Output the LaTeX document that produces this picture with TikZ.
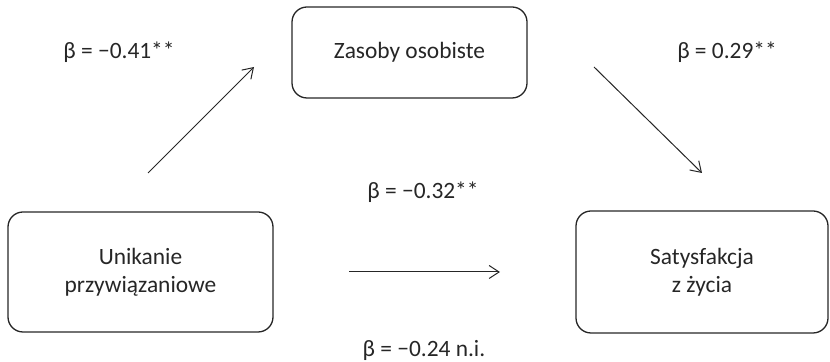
\documentclass[tikz,border=0pt]{standalone}
\usepackage{fontspec}
\setmainfont{Carlito}
\usetikzlibrary{arrows.meta}
\definecolor{ink}{HTML}{262626}
\begin{document}
\begin{tikzpicture}[x=0.5pt,y=-0.5pt,
  box/.style={draw=ink, line width=0.65pt, rounded corners=7.5pt, align=center, inner sep=0pt, text=ink},
  lbl/.style={text=ink, inner sep=0pt},
  conn/.style={draw=ink, line width=0.5pt, -{Straight Barb[length=5pt,width=6.5pt]}},
  every node/.style={font=\fontsize{11.7}{14}\selectfont}]
\useasboundingbox (0,0) rectangle (830,362);
\node[box, minimum width=117.5pt, minimum height=45.5pt] (zas) at (409.5,52.5) {Zasoby osobiste};
\node[box, minimum width=132.5pt, minimum height=60pt] (uni) at (140.5,272) {Unikanie\\przywiązaniowe};
\node[box, minimum width=126pt, minimum height=61pt] (sat) at (702,272) {Satysfakcja\\z życia};
\node[lbl] (b1) at (119,52) {β = −0.41**};
\node[lbl] (b2) at (727,52) {β = 0.29**};
\node[lbl] (b3) at (423,192) {β = −0.32**};
\node[lbl] (b4) at (424,350) {β = −0.24 n.i.};
\coordinate (a1s) at (148,173);
\coordinate (a1e) at (254,67);
\coordinate (a2s) at (594,67);
\coordinate (a2e) at (702,173);
\coordinate (a3s) at (349,272);
\coordinate (a3e) at (500,272);
\draw[conn] (a1s) -- (a1e);
\draw[conn] (a2s) -- (a2e);
\draw[conn] (a3s) -- (a3e);
\end{tikzpicture}
\end{document}
